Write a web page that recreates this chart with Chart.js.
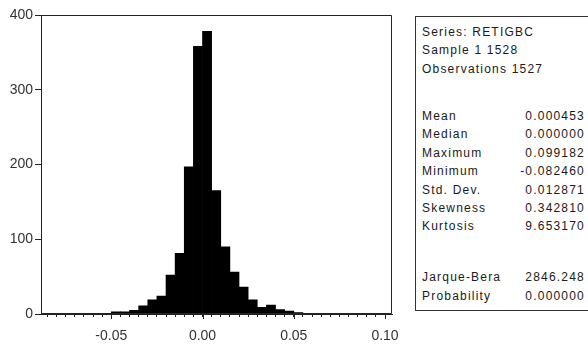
<!DOCTYPE html>
<html><head><meta charset="utf-8">
<script src="https://cdn.jsdelivr.net/npm/chart.js@4/dist/chart.umd.min.js"></script>
<style>
html,body{margin:0;padding:0;background:#fff;width:588px;height:346px;overflow:hidden;position:relative;}
#wrap{position:absolute;left:0;top:0;width:410px;height:346px;}
#stats{position:absolute;left:415px;top:16px;width:220px;height:295px;border:1px solid #333;box-sizing:border-box;
  font-family:"Liberation Sans",Arial,sans-serif;font-size:12px;color:#1a1a1a;letter-spacing:1.2px;}
.row{position:absolute;left:6px;height:18px;line-height:18px;white-space:nowrap;}
.val{position:absolute;left:0;width:169px;text-align:right;height:18px;line-height:18px;white-space:nowrap;}
</style>
</head><body>
<div id="wrap"><canvas id="c" width="410" height="346"></canvas></div>
<div id="stats"></div>
<script>
// Histogram bins (bin centers, width 0.005) and counts
const binCenters = [-0.0825,-0.0775,-0.0725,-0.0675,-0.0625,-0.0575,-0.0525,-0.0475,-0.0425,-0.0375,
  -0.0325,-0.0275,-0.0225,-0.0175,-0.0125,-0.0075,-0.0025,0.0025,0.0075,0.0125,
  0.0175,0.0225,0.0275,0.0325,0.0375,0.0425,0.0475,0.0525,0.0575,0.0625,
  0.0675,0.0725,0.0775,0.0825,0.0875,0.0925,0.0975];
const counts = [1,0,1,0,0,1,1,3,3,5,
  11,19,24,52,81,197,358,378,165,90,
  56,36,19,9,12,6,4,2,1,0,
  0,1,0,0,0,0,1];
const xTickLabels = [-0.05, 0.00, 0.05, 0.10];
const yTicks = [0,100,200,300,400];

// Stats box
const statHeader = ["Series: RETIGBC","Sample 1 1528","Observations 1527"];
const statNames = ["Mean","Median","Maximum","Minimum","Std. Dev.","Skewness","Kurtosis","Jarque-Bera","Probability"];
const statValues = ["0.000453","0.000000","0.099182","-0.082460","0.012871","0.342810","9.653170","2846.248","0.000000"];

const box = document.getElementById('stats');
const headerTops = [6, 24.3, 42.7];
const statTops = [90, 108.4, 126.8, 145.2, 163.6, 182, 200.4, 251, 269.5];
statHeader.forEach((t,i)=>{const d=document.createElement('div');d.className='row';d.style.top=headerTops[i]+'px';d.textContent=t;box.appendChild(d);});
statNames.forEach((t,i)=>{
  const d=document.createElement('div');d.className='row';d.style.top=statTops[i]+'px';d.textContent=t;box.appendChild(d);
  const v=document.createElement('div');v.className='val';v.style.top=statTops[i]+'px';v.textContent=statValues[i];box.appendChild(v);
});

const frame = {
  id:'frame',
  afterDraw(chart){
    const {ctx, chartArea:a} = chart;
    ctx.save();
    ctx.strokeStyle='#222';ctx.lineWidth=1;
    const l=Math.round(a.left)+0.5, r=Math.round(a.right)-0.5, t=Math.round(a.top)+0.5, b=Math.round(a.bottom)-0.5;
    ctx.beginPath();
    ctx.moveTo(l,b);ctx.lineTo(l,t);ctx.lineTo(r,t);ctx.lineTo(r,b);ctx.lineTo(l,b);
    ctx.stroke();
    // longer major ticks on the x axis
    const xs = chart.scales.x;
    ctx.beginPath();
    xTickLabels.forEach(v=>{const px=Math.round(xs.getPixelForValue(v))+0.5;ctx.moveTo(px,b);ctx.lineTo(px,b+5.5);});
    ctx.stroke();
    ctx.restore();
  }
};

new Chart(document.getElementById('c'), {
  type:'bar',
  data:{datasets:[{
    data: binCenters.map((c,i)=>({x:c,y:counts[i]})),
    backgroundColor:'#000', borderWidth:0, barPercentage:1.0, categoryPercentage:1.0
  }]},
  options:{
    responsive:false, animation:false,
    layout:{padding:{left:0,top:15,right:17,bottom:0}},
    plugins:{legend:{display:false},tooltip:{enabled:false}},
    scales:{
      x:{type:'linear', min:-0.0885, max:0.104, offset:false,
        grid:{offset:false, drawOnChartArea:false, drawTicks:true, tickLength:3, color:'#222', tickColor:'#222'},
        border:{display:true,color:'#222'},
        ticks:{stepSize:0.005, includeBounds:false, autoSkip:false, maxRotation:0, padding:11,
          color:'#333', font:{family:'"Liberation Sans", Arial, sans-serif', size:14},
          callback:(v)=>{const m=xTickLabels.find(t=>Math.abs(t-v)<1e-9);return m===undefined?'':m.toFixed(2);}},
        afterFit:(s)=>{s.height=32;}
      },
      y:{type:'linear', min:0, max:400, 
        grid:{drawOnChartArea:false, drawTicks:true, tickLength:6, color:'#222', tickColor:'#222'},
        border:{display:true,color:'#222'},
        ticks:{stepSize:100, padding:2, color:'#333', font:{family:'"Liberation Sans", Arial, sans-serif', size:14},
          callback:(v)=>yTicks.includes(v)?String(v):''},
        afterFit:(s)=>{s.width=41;}
      }
    }
  },
  plugins:[frame]
});
</script>
</body></html>
